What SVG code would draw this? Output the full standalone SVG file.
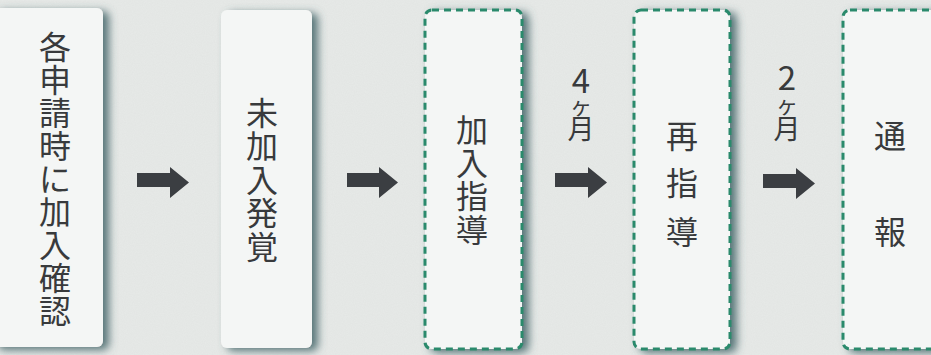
<svg xmlns="http://www.w3.org/2000/svg" width="931" height="355" viewBox="0 0 931 355">
<defs>
<filter id="sh" x="-20%" y="-10%" width="140%" height="120%">
<feGaussianBlur in="SourceAlpha" stdDeviation="4"/>
<feOffset dx="6" dy="3" result="b"/>
<feFlood flood-color="#3f6266" flood-opacity="0.85"/>
<feComposite in2="b" operator="in"/>
<feMerge><feMergeNode/><feMergeNode in="SourceGraphic"/></feMerge>
</filter>
<filter id="grain" x="0" y="0" width="100%" height="100%">
<feTurbulence type="fractalNoise" baseFrequency="0.9" numOctaves="2" seed="3"/>
<feColorMatrix type="matrix" values="0 0 0 0 0.5  0 0 0 0 0.5  0 0 0 0 0.5  0 0 0 0.12 0"/>
</filter>
</defs>
<style>
.box{fill:#f4f6f5;}
.dash{fill:#f4f6f5;stroke:#2b8a6c;stroke-width:3;stroke-dasharray:7 5;}
.t{font-family:"Noto Sans CJK JP","Noto Sans",sans-serif;fill:#383a3c;text-anchor:middle;}
.big{font-size:32px;}
.arr{fill:#3b3e42;}
</style>
<rect width="931" height="355" fill="#e7eae8"/>
<rect width="931" height="355" filter="url(#grain)"/>

<g id="node1">
<rect class="box" x="-8" y="8" width="111" height="339" rx="6" filter="url(#sh)"/>
<text class="t big">
<tspan x="55" y="59">各</tspan><tspan x="55" y="92">申</tspan><tspan x="55" y="125">請</tspan><tspan x="55" y="158">時</tspan><tspan x="55" y="191">に</tspan><tspan x="55" y="224">加</tspan><tspan x="55" y="257">入</tspan><tspan x="55" y="290">確</tspan><tspan x="55" y="323">認</tspan>
</text>
</g>

<g id="node2">
<rect class="box" x="221" y="10" width="91" height="338" rx="6" filter="url(#sh)"/>
<text class="t big">
<tspan x="262" y="125">未</tspan><tspan x="262" y="158">加</tspan><tspan x="262" y="192">入</tspan><tspan x="262" y="225">発</tspan><tspan x="262" y="259">覚</tspan>
</text>
</g>

<g id="node3">
<rect class="dash" x="425" y="10" width="97" height="339" rx="7" filter="url(#sh)"/>
<text class="t big">
<tspan x="472" y="142">加</tspan><tspan x="472" y="175">入</tspan><tspan x="472" y="208">指</tspan><tspan x="472" y="242">導</tspan>
</text>
</g>

<g id="node4">
<rect class="dash" x="634" y="10" width="96" height="339" rx="7" filter="url(#sh)"/>
<text class="t big">
<tspan x="682" y="148">再</tspan><tspan x="682" y="195">指</tspan><tspan x="682" y="244">導</tspan>
</text>
</g>

<g id="node5">
<rect class="dash" x="843" y="10" width="110" height="339" rx="7" filter="url(#sh)"/>
<text class="t big">
<tspan x="890" y="148">通</tspan><tspan x="890" y="244">報</tspan>
</text>
</g>

<g id="connectors">
<path class="arr" d="M137,173 H170 V167 L189,182.5 L170,198 V187 H137 Z"/>
<path class="arr" d="M347,173 H379 V167 L398,182.5 L379,198 V187 H347 Z"/>
<path class="arr" d="M555,173 H588 V167 L607,182.5 L588,198 V187 H555 Z"/>
<path class="arr" d="M763,174 H796 V168 L815,183.5 L796,199 V188 H763 Z"/>
<text class="t"><tspan x="581" y="93" font-size="33">4</tspan><tspan x="581" y="114" font-size="22">ヶ</tspan><tspan x="581" y="139" font-size="27">月</tspan></text>
<text class="t"><tspan x="787" y="90" font-size="33">2</tspan><tspan x="787" y="113" font-size="22">ヶ</tspan><tspan x="787" y="139" font-size="27">月</tspan></text>
</g>
</svg>
